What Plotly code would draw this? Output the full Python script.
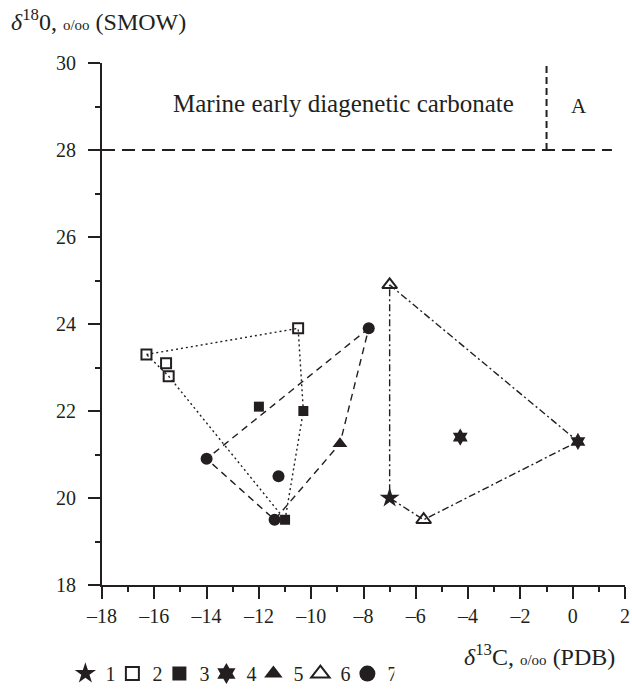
import plotly.graph_objects as go

# Sample groups: δ13C (PDB) and δ18O (SMOW), per mil
star_x = [-7.0]
star_y = [20.0]

open_sq_x = [-16.3, -15.55, -15.45, -10.5]
open_sq_y = [23.3, 23.1, 22.8, 23.9]

filled_sq_x = [-12.0, -10.3, -11.0]
filled_sq_y = [22.1, 22.0, 19.5]

hexa_x = [-4.3, 0.2]
hexa_y = [21.4, 21.3]

tri_x = [-8.9]
tri_y = [21.25]

open_tri_x = [-7.0, -5.7]
open_tri_y = [24.9, 19.5]

circ_x = [-7.8, -14.0, -11.25, -11.4]
circ_y = [23.9, 20.9, 20.5, 19.5]

# Boundary of the marine early diagenetic carbonate field
marine_y = 28.0
marine_x_end = 1.5
field_split_x = -1.0
y_top = 30.0

x_ticks = [-18, -16, -14, -12, -10, -8, -6, -4, -2, 0, 2]
y_ticks = [18, 20, 22, 24, 26, 28, 30]

INK = "#231f20"
SERIF = "Liberation Serif"

fig = go.Figure()

# Outline polygons joining the groups
def poly(pts, dash):
    fig.add_trace(go.Scatter(
        x=[p[0] for p in pts], y=[p[1] for p in pts], mode="lines",
        line=dict(color=INK, width=1.4, dash=dash),
        showlegend=False, hoverinfo="skip"))

poly([(open_sq_x[0], open_sq_y[0]), (open_sq_x[3], open_sq_y[3]),
      (filled_sq_x[1], filled_sq_y[1]), (filled_sq_x[2], filled_sq_y[2]),
      (open_sq_x[2], open_sq_y[2]), (open_sq_x[0], open_sq_y[0])], "2px,3px")

poly([(circ_x[0], circ_y[0]), (circ_x[1], circ_y[1]),
      (circ_x[3], circ_y[3]), (tri_x[0], tri_y[0]),
      (circ_x[0], circ_y[0])], "7px,5px")

poly([(open_tri_x[0], open_tri_y[0]), (hexa_x[1], hexa_y[1]),
      (open_tri_x[1], open_tri_y[1]), (star_x[0], star_y[0]),
      (open_tri_x[0], open_tri_y[0])], "7px,3px,2px,3px")

# Marine field boundary
fig.add_trace(go.Scatter(
    x=[x_ticks[0], marine_x_end], y=[marine_y, marine_y], mode="lines",
    line=dict(color=INK, width=2, dash="13px,7px"),
    showlegend=False, hoverinfo="skip"))
fig.add_trace(go.Scatter(
    x=[field_split_x, field_split_x], y=[marine_y, y_top - 0.05], mode="lines",
    line=dict(color=INK, width=2, dash="7px,4px"),
    showlegend=False, hoverinfo="skip"))

# Sample markers, plus larger legend-only keys
groups = [
    ("1", star_x, star_y, "star", 15, 16),
    ("2", open_sq_x, open_sq_y, "square-open", 10, 13),
    ("3", filled_sq_x, filled_sq_y, "square", 10, 14),
    ("4", hexa_x, hexa_y, "hexagram", 13, 16),
    ("5", tri_x, tri_y, "triangle-up", 13, 16),
    ("6", open_tri_x, open_tri_y, "triangle-up-open", 13, 16),
    ("7", circ_x, circ_y, "circle", 12, 16),
]
for name, xs, ys, sym, size, key_size in groups:
    lw = 2 if "open" in sym else 0
    fig.add_trace(go.Scatter(
        x=xs, y=ys, mode="markers", name=name, showlegend=False,
        marker=dict(symbol=sym, size=size, color=INK,
                    line=dict(color=INK, width=lw))))
    fig.add_trace(go.Scatter(
        x=[None], y=[None], mode="markers", name=name, showlegend=True,
        marker=dict(symbol=sym, size=key_size, color=INK,
                    line=dict(color=INK, width=lw))))

fig.add_annotation(x=-8.77, y=29.08, xref="x", yref="y",
                   text="Marine early diagenetic carbonate", showarrow=False,
                   font=dict(family=SERIF, size=25, color=INK))
fig.add_annotation(x=0.25, y=29.02, xref="x", yref="y", text="A",
                   showarrow=False, font=dict(family=SERIF, size=21, color=INK))

small = "<span style='font-size:15px'>o/oo</span>"
fig.add_annotation(x=-0.178, y=1.083, xref="paper", yref="paper", xanchor="left",
                   yanchor="middle",
                   text="<i>δ</i><sup>18</sup>0, " + small + " (SMOW)",
                   showarrow=False, font=dict(family=SERIF, size=24, color=INK))

fig.add_annotation(x=0.985, y=-0.135, xref="paper", yref="paper", xanchor="right",
                   yanchor="middle",
                   text="<i>δ</i><sup>13</sup>C, " + small + " (PDB)",
                   showarrow=False, font=dict(family=SERIF, size=24, color=INK))

axis_common = dict(
    showline=True, linecolor=INK, linewidth=2, showgrid=False, zeroline=False,
    ticks="outside", ticklen=12, tickwidth=2, tickcolor=INK,
    tickfont=dict(family=SERIF, size=20, color=INK),
    minor=dict(ticks="outside", ticklen=5, tickwidth=2, tickcolor=INK, dtick=1),
)

fig.update_xaxes(range=[-18, 2], tickvals=x_ticks,
                 ticktext=[str(v).replace("-", "–") for v in x_ticks],
                 **axis_common)
fig.update_yaxes(range=[18, 30], tickvals=y_ticks,
                 ticktext=[str(v) for v in y_ticks],
                 ticklabelstandoff=8, **axis_common)

fig.update_layout(
    width=632, height=694,
    margin=dict(l=102, r=7, t=63, b=109, autoexpand=False),
    plot_bgcolor="white", paper_bgcolor="white",
    showlegend=True,
    legend=dict(orientation="h", x=-0.07, y=-0.207, xanchor="left",
                yanchor="bottom", entrywidth=2, entrywidthmode="pixels",
                itemsizing="trace", borderwidth=0,
                font=dict(family=SERIF, size=20, color=INK),
                bgcolor="rgba(0,0,0,0)"),
)

fig.write_html("out.html")
